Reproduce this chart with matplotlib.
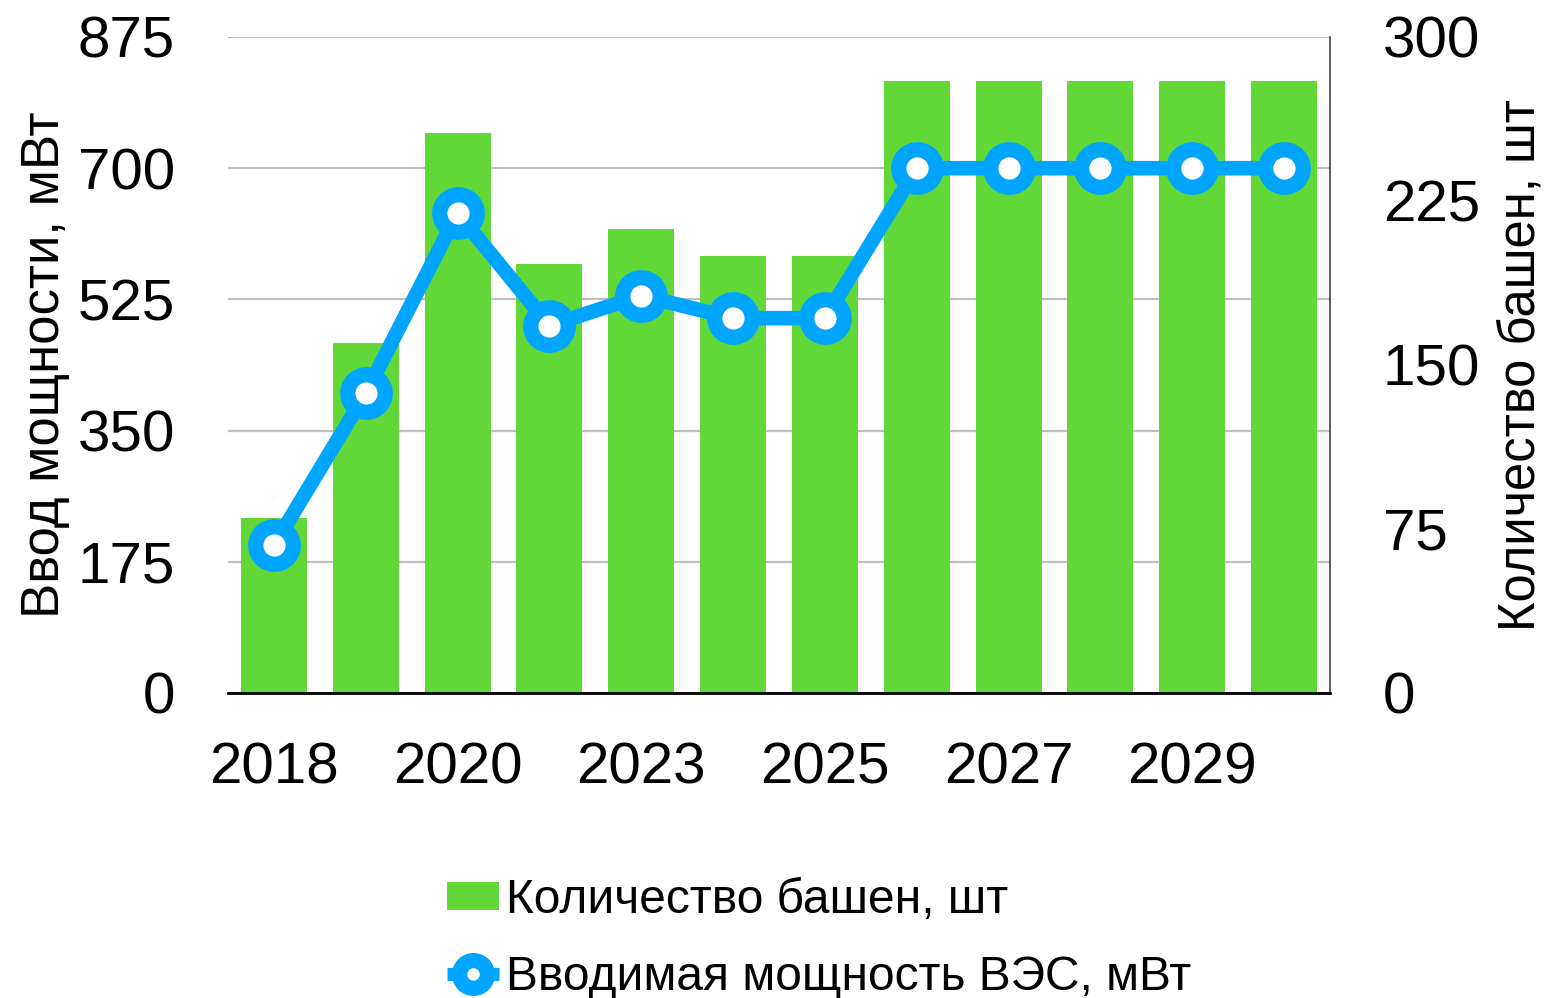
import matplotlib
matplotlib.use('Agg')
import matplotlib.pyplot as plt
from matplotlib.lines import Line2D
from matplotlib.patches import Patch

years = ['2018', '2019', '2020', '2022', '2023', '2024', '2025', '2026', '2027', '2028', '2029', '2030']
towers = [80, 160, 256, 196, 212, 200, 200, 280, 280, 280, 280, 280]
power = [197, 400, 640, 490, 530, 500, 500, 700, 700, 700, 700, 700]
left_ticks = [0, 175, 350, 525, 700, 875]
right_ticks = [0, 75, 150, 225, 300]
shown_years = [0, 2, 4, 6, 8, 10]

bar_label = 'Количество башен, шт'
line_label = 'Вводимая мощность ВЭС, мВт'
left_title = 'Ввод мощности, мВт'
right_title = 'Количество башен, шт'

GREEN = '#62D838'
BLUE = '#00A5FF'

plt.rcParams['font.family'] = ['Liberation Sans', 'DejaVu Sans']

fig = plt.figure(figsize=(15.45, 9.98), dpi=100)
rect = [228 / 1545, 1 - 693 / 998, (1330 - 228) / 1545, (693 - 37) / 998]

# base axis: left scale + gridlines
ax = fig.add_axes(rect)
# bars on right scale
ax2 = ax.twinx()
# line on left scale, drawn on top
ax3 = ax.twinx()

x = list(range(len(years)))

ax.set_ylim(0, 875)
ax.set_yticks(left_ticks)
ax.yaxis.grid(True, color='#BFBFBF', lw=1.6)
ax.set_xlim(-0.5, len(years) - 0.5)
ax.set_xticks([x[i] for i in shown_years])
ax.set_xticklabels([years[i] for i in shown_years])

ax2.bar(x, towers, width=0.72, color=GREEN)
ax2.set_ylim(0, 300)
ax2.set_yticks(right_ticks)

ax3.plot(x, power, color=BLUE, lw=10.5, marker='o', ms=27, mfc='white',
         mec=BLUE, mew=11, solid_joinstyle='round', clip_on=False)
ax3.set_ylim(0, 875)
ax3.set_yticks([])

for a in (ax, ax2, ax3):
    for s in ('top', 'left', 'right', 'bottom'):
        a.spines[s].set_visible(False)
ax3.spines['bottom'].set_visible(True)
ax3.spines['bottom'].set_color('black')
ax3.spines['bottom'].set_linewidth(2)
ax3.spines['right'].set_visible(True)
ax3.spines['right'].set_color('#404040')
ax3.spines['right'].set_linewidth(1.2)

ax.tick_params(axis='y', length=0, pad=38, labelsize=42)
ax.tick_params(axis='x', length=0, pad=35, labelsize=42)
ax2.tick_params(axis='y', length=0, pad=38, labelsize=42)
ax3.tick_params(axis='both', length=0)

fig.text(45 / 1545, 1 - 365 / 998, left_title, rotation=90, ha='center', va='center', fontsize=38)
fig.text(1521 / 1545, 1 - 365 / 998, right_title, rotation=90, ha='center', va='center', fontsize=36.5)

handles = [Patch(facecolor=GREEN, edgecolor='none'),
           Line2D([0], [0], color=BLUE, lw=9.5, marker='o', ms=20, mfc='white', mec=BLUE, mew=11,
                  solid_capstyle='butt')]
fig.legend(handles, [bar_label, line_label], loc='upper left',
           bbox_to_anchor=(447 / 1545, 1 - 878 / 998), frameon=False, fontsize=34.5,
           handlelength=1.08, handleheight=0.5, handletextpad=0.15, labelspacing=0.66,
           borderpad=0, borderaxespad=0)

fig.savefig('out.png', dpi=100, facecolor='white')
